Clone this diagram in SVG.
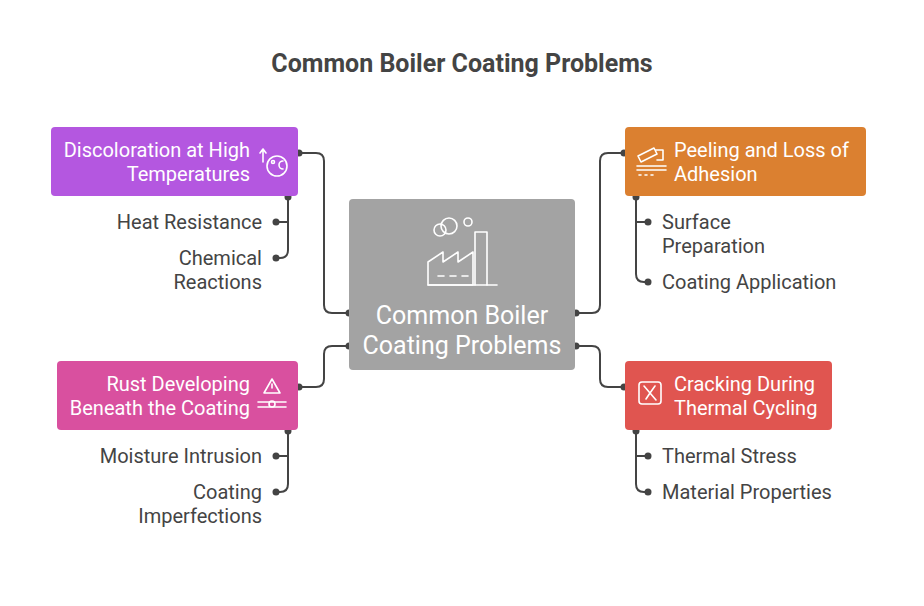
<svg xmlns="http://www.w3.org/2000/svg" width="924" height="606" viewBox="0 0 924 606">
<style>
text{font-family:Roboto,"Liberation Sans",sans-serif}
.t{font-size:25px;font-weight:bold;fill:#444}
.n{font-size:20px;fill:#fff}
.c{font-size:25px;fill:#fff}
.s{font-size:20px;fill:#444}
.l{fill:none;stroke:#444;stroke-width:2}
.d{fill:#444}
.ic{fill:none;stroke:#fff;stroke-width:1.6;stroke-linecap:round;stroke-linejoin:round}
</style>
<rect width="924" height="606" fill="#fff"/>
<text class="t" x="462" y="72" text-anchor="middle">Common Boiler Coating Problems</text>
<g id="connectors">
<path class="l" d="M299,153 H316 Q324,153 324,161 V305 Q324,313 332,313 H349"/>
<path class="l" d="M624,153 H608 Q600,153 600,161 V305 Q600,313 592,313 H576"/>
<path class="l" d="M299,387 H316 Q324,387 324,379 V354 Q324,346 332,346 H349"/>
<path class="l" d="M624,387 H608 Q600,387 600,379 V354 Q600,346 592,346 H576"/>
<path class="l" d="M288,197 V250 Q288,258 280,258 H276 M288,222 H276"/>
<path class="l" d="M636,197 V274 Q636,282 644,282 H648 M636,222 H648"/>
<path class="l" d="M288,431 V484 Q288,492 280,492 H276 M288,456 H276"/>
<path class="l" d="M636,431 V484 Q636,492 644,492 H648 M636,456 H648"/>
<g class="d">
<circle cx="299" cy="153" r="3.5"/><circle cx="349" cy="313" r="3.5"/>
<circle cx="624" cy="153" r="3.5"/><circle cx="576" cy="313" r="3.5"/>
<circle cx="299" cy="387" r="3.5"/><circle cx="349" cy="346" r="3.5"/>
<circle cx="624" cy="387" r="3.5"/><circle cx="576" cy="346" r="3.5"/>
<circle cx="288" cy="197" r="3.5"/><circle cx="276" cy="222" r="3.5"/><circle cx="276" cy="258" r="3.5"/>
<circle cx="636" cy="197" r="3.5"/><circle cx="648" cy="222" r="3.5"/><circle cx="648" cy="282" r="3.5"/>
<circle cx="288" cy="431" r="3.5"/><circle cx="276" cy="456" r="3.5"/><circle cx="276" cy="492" r="3.5"/>
<circle cx="636" cy="431" r="3.5"/><circle cx="648" cy="456" r="3.5"/><circle cx="648" cy="492" r="3.5"/>
</g>
</g>
<g id="center">
<rect x="349" y="199" width="226" height="171" rx="4" fill="#a3a3a3"/>
<g class="ic" stroke-width="2">
<path d="M428,285 V262 L443,252 V262 L458,252 V262 L473,252 V285 Z M475,285 V232 H487 V285"/>
<path d="M428,285 H497"/>
<circle cx="449" cy="226" r="8"/><circle cx="440" cy="230" r="6"/><circle cx="468" cy="222" r="4"/>
<path d="M438,276 h6 M450,276 h6 M462,276 h6"/>
</g>
<text class="c" x="462" y="324" text-anchor="middle">Common Boiler</text>
<text class="c" x="462" y="354" text-anchor="middle">Coating Problems</text>
</g>
<g id="n1">
<rect x="51" y="127" width="247" height="69" rx="4" fill="#b457e0"/>
<text class="n" x="250" y="157" text-anchor="end">Discoloration at High</text>
<text class="n" x="250" y="181" text-anchor="end">Temperatures</text>
<g class="ic"><circle cx="277" cy="166" r="10"/><path d="M263,162 V150 M260,153 L263,149 L266,153"/><circle cx="273" cy="162" r="1.5"/><path d="M283,161 a4,4 0 1 0 0,8"/></g>
</g>
<g id="n2">
<rect x="625" y="127" width="241" height="69" rx="4" fill="#db8030"/>
<text class="n" x="674" y="157">Peeling and Loss of</text>
<text class="n" x="674" y="181">Adhesion</text>
<g class="ic"><path d="M638,156 L654,148 L657,154 L641,162 Z M655,150 h8 v10 h-6 M637,166 h29 M637,170 h29 M639,175 h2 M645,175 h2 M651,175 h2"/></g>
</g>
<g id="n3">
<rect x="57" y="361" width="241" height="69" rx="4" fill="#d9509f"/>
<text class="n" x="250" y="391" text-anchor="end">Rust Developing</text>
<text class="n" x="250" y="415" text-anchor="end">Beneath the Coating</text>
<g class="ic"><path d="M272,393 L264,393 L272,379 L280,393 Z M272,384 v4"/><path d="M258,402 h28 M258,407 h28"/><circle cx="272" cy="404" r="3"/></g>
</g>
<g id="n4">
<rect x="625" y="361" width="207" height="69" rx="4" fill="#e05550"/>
<text class="n" x="674" y="391">Cracking During</text>
<text class="n" x="674" y="415">Thermal Cycling</text>
<g class="ic"><rect x="639" y="382" width="22" height="22" rx="3"/><path d="M644,386 L650,393 L646,399 M655,386 L650,393 L656,400"/></g>
</g>
<g id="subs">
<text class="s" x="262" y="229" text-anchor="end">Heat Resistance</text>
<text class="s" x="262" y="265" text-anchor="end">Chemical</text>
<text class="s" x="262" y="289" text-anchor="end">Reactions</text>
<text class="s" x="662" y="229">Surface</text>
<text class="s" x="662" y="253">Preparation</text>
<text class="s" x="662" y="289">Coating Application</text>
<text class="s" x="262" y="463" text-anchor="end">Moisture Intrusion</text>
<text class="s" x="262" y="499" text-anchor="end">Coating</text>
<text class="s" x="262" y="523" text-anchor="end">Imperfections</text>
<text class="s" x="662" y="463">Thermal Stress</text>
<text class="s" x="662" y="499">Material Properties</text>
</g>
</svg>
